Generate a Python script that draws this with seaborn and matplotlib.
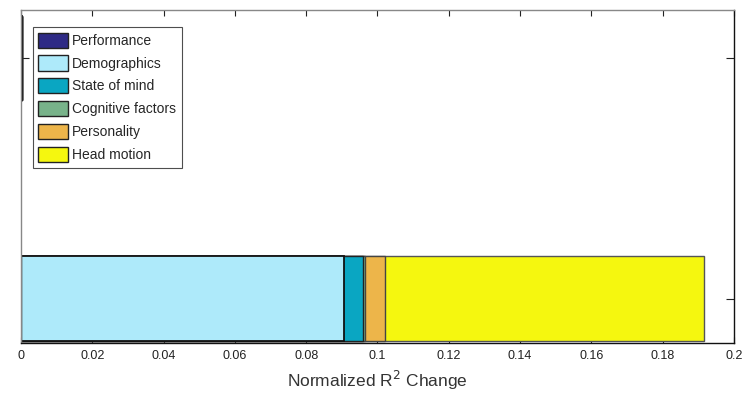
import pandas as pd
import matplotlib
matplotlib.use("Agg")
import matplotlib.pyplot as plt
from matplotlib.patches import Patch
import seaborn as sns

# components of the R^2 change, one value per row (top row, bottom row)
rows = ["top", "bottom"]
components = ["Performance", "Demographics", "State of mind",
              "Cognitive factors", "Personality", "Head motion"]
performance = [0.0002, 0.0]
demographics = [0.0, 0.0905]
state_of_mind = [0.0, 0.0055]
cognitive = [0.0, 0.0005]
personality = [0.0, 0.0057]
head_motion = [0.0, 0.0895]
colors = ["#2e2a85", "#aeeafa", "#0aa6c2", "#78b38a", "#edb54a", "#f5f70f"]
xticks = [0, 0.02, 0.04, 0.06, 0.08, 0.1, 0.12, 0.14, 0.16, 0.18, 0.2]
xticklabels = ["0", "0.02", "0.04", "0.06", "0.08", "0.1",
               "0.12", "0.14", "0.16", "0.18", "0.2"]

sns.set_style("white")
plt.rcParams["font.family"] = ["Liberation Sans", "DejaVu Sans"]

df = pd.DataFrame({"row": rows, "Performance": performance,
                   "Demographics": demographics, "State of mind": state_of_mind,
                   "Cognitive factors": cognitive, "Personality": personality,
                   "Head motion": head_motion})
cum = df[components].cumsum(axis=1)
cum["row"] = df["row"]

fig = plt.figure(figsize=(7.47, 3.94), dpi=100)
ax = fig.add_axes([0.028, 0.1294, 0.9546, 0.8452])

# stacked bars: draw cumulative totals, longest first
edges = ["#111111", "#111111", "#222222", "#444444", "#444444", "#555555"]
for comp, col, ec in reversed(list(zip(components, colors, edges))):
    sns.barplot(data=cum, y="row", x=comp, color=col, orient="h", width=0.35,
                edgecolor=ec, linewidth=1.3 if comp == "Demographics" else 1.0,
                saturation=1, ax=ax)

ax.set_xlim(0, 0.2)
ax.set_ylim(1.185, -0.2)
ax.set_xticks(xticks)
ax.set_xticklabels(xticklabels, fontsize=9)
ax.set_yticks([0, 1])
ax.set_yticklabels([])
ax.set_ylabel("")
ax.set_xlabel("Normalized R$^2$ Change", fontsize=12.5, color="#333333",
              labelpad=5)
ax.tick_params(axis="x", direction="in", top=True, bottom=True, length=4,
               width=0.8, colors="#222222", pad=5)
ax.tick_params(axis="y", direction="in", left=True, right=True, length=6,
               width=0.8, colors="#222222")
for side in ["top", "left"]:
    ax.spines[side].set_color("#888888")
    ax.spines[side].set_linewidth(1.0)
for side in ["bottom", "right"]:
    ax.spines[side].set_color("#111111")
    ax.spines[side].set_linewidth(1.0)

handles = [Patch(facecolor=c, edgecolor="#222222", linewidth=1.0) for c in colors]
leg = ax.legend(handles, components, loc="upper left",
                bbox_to_anchor=(0.0168, 0.949), fontsize=10, frameon=True,
                fancybox=False, edgecolor="#222222", handlelength=2.15,
                handleheight=1.3, labelspacing=0.55, handletextpad=0.28,
                borderpad=0.4, borderaxespad=0.0)
leg.get_frame().set_linewidth(0.8)

fig.savefig("out.png", dpi=100)
